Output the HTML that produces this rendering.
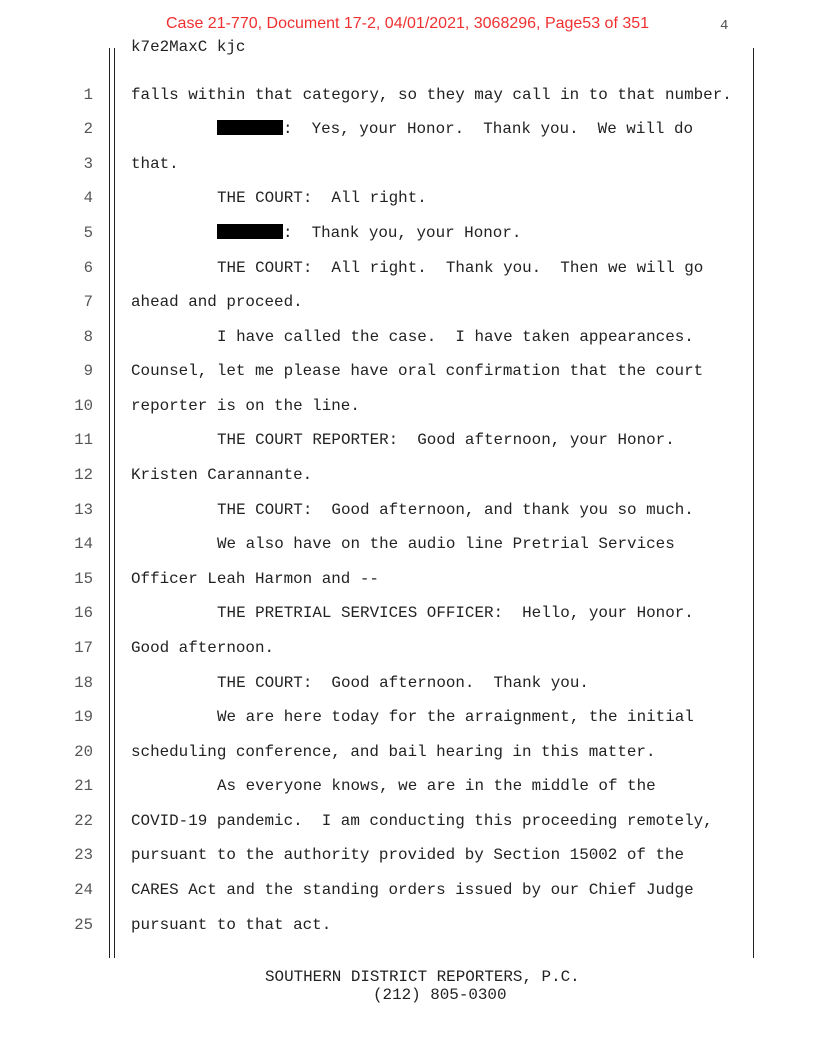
<!DOCTYPE html>
<html><head><meta charset="utf-8"><style>
body{margin:0;background:#fff;}
#p{position:relative;width:816px;height:1056px;overflow:hidden;background:#fff;font-family:"Liberation Mono",monospace;font-size:15.9px;color:#222;}
.t{position:absolute;white-space:pre;line-height:18px;}
.v{position:absolute;background:#222;width:1px;}
#rows{position:absolute;left:0;top:77.7px;width:816px;}
.row{position:relative;height:34.58px;line-height:34.58px;white-space:pre;}
.row .n{position:absolute;left:53px;width:40px;text-align:right;color:#555;font-size:15.6px;}
.row .x{position:absolute;left:131px;}
.row .i{position:absolute;left:217px;}
.r{display:inline-block;width:66px;height:15px;background:#000;vertical-align:-2px;}
</style></head><body><div id="p">
<div class="t" style="left:166px;top:15px;font-family:'Liberation Sans',sans-serif;font-size:16px;color:#f03030;">Case 21-770, Document 17-2, 04/01/2021, 3068296, Page53 of 351</div>
<div class="t" style="left:720px;top:17px;color:#555;font-size:14px;">4</div>
<div class="t" style="left:131px;top:38px;">k7e2MaxC kjc</div>
<div class="v" style="left:109px;top:48px;height:910px;"></div>
<div class="v" style="left:114px;top:48px;height:910px;"></div>
<div class="v" style="left:753px;top:48px;height:910px;"></div>
<div id="rows">
<div class="row"><span class="n">1</span><span class="x">falls within that category, so they may call in to that number.</span></div>
<div class="row"><span class="n">2</span><span class="i"><span class="r"></span>:  Yes, your Honor.  Thank you.  We will do</span></div>
<div class="row"><span class="n">3</span><span class="x">that.</span></div>
<div class="row"><span class="n">4</span><span class="i">THE COURT:  All right.</span></div>
<div class="row"><span class="n">5</span><span class="i"><span class="r"></span>:  Thank you, your Honor.</span></div>
<div class="row"><span class="n">6</span><span class="i">THE COURT:  All right.  Thank you.  Then we will go</span></div>
<div class="row"><span class="n">7</span><span class="x">ahead and proceed.</span></div>
<div class="row"><span class="n">8</span><span class="i">I have called the case.  I have taken appearances.</span></div>
<div class="row"><span class="n">9</span><span class="x">Counsel, let me please have oral confirmation that the court</span></div>
<div class="row"><span class="n">10</span><span class="x">reporter is on the line.</span></div>
<div class="row"><span class="n">11</span><span class="i">THE COURT REPORTER:  Good afternoon, your Honor.</span></div>
<div class="row"><span class="n">12</span><span class="x">Kristen Carannante.</span></div>
<div class="row"><span class="n">13</span><span class="i">THE COURT:  Good afternoon, and thank you so much.</span></div>
<div class="row"><span class="n">14</span><span class="i">We also have on the audio line Pretrial Services</span></div>
<div class="row"><span class="n">15</span><span class="x">Officer Leah Harmon and --</span></div>
<div class="row"><span class="n">16</span><span class="i">THE PRETRIAL SERVICES OFFICER:  Hello, your Honor.</span></div>
<div class="row"><span class="n">17</span><span class="x">Good afternoon.</span></div>
<div class="row"><span class="n">18</span><span class="i">THE COURT:  Good afternoon.  Thank you.</span></div>
<div class="row"><span class="n">19</span><span class="i">We are here today for the arraignment, the initial</span></div>
<div class="row"><span class="n">20</span><span class="x">scheduling conference, and bail hearing in this matter.</span></div>
<div class="row"><span class="n">21</span><span class="i">As everyone knows, we are in the middle of the</span></div>
<div class="row"><span class="n">22</span><span class="x">COVID-19 pandemic.  I am conducting this proceeding remotely,</span></div>
<div class="row"><span class="n">23</span><span class="x">pursuant to the authority provided by Section 15002 of the</span></div>
<div class="row"><span class="n">24</span><span class="x">CARES Act and the standing orders issued by our Chief Judge</span></div>
<div class="row"><span class="n">25</span><span class="x">pursuant to that act.</span></div>
</div>
<div class="t" style="left:265px;top:968px;">SOUTHERN DISTRICT REPORTERS, P.C.</div>
<div class="t" style="left:373px;top:986px;">(212) 805-0300</div>
</div>
</body></html>
